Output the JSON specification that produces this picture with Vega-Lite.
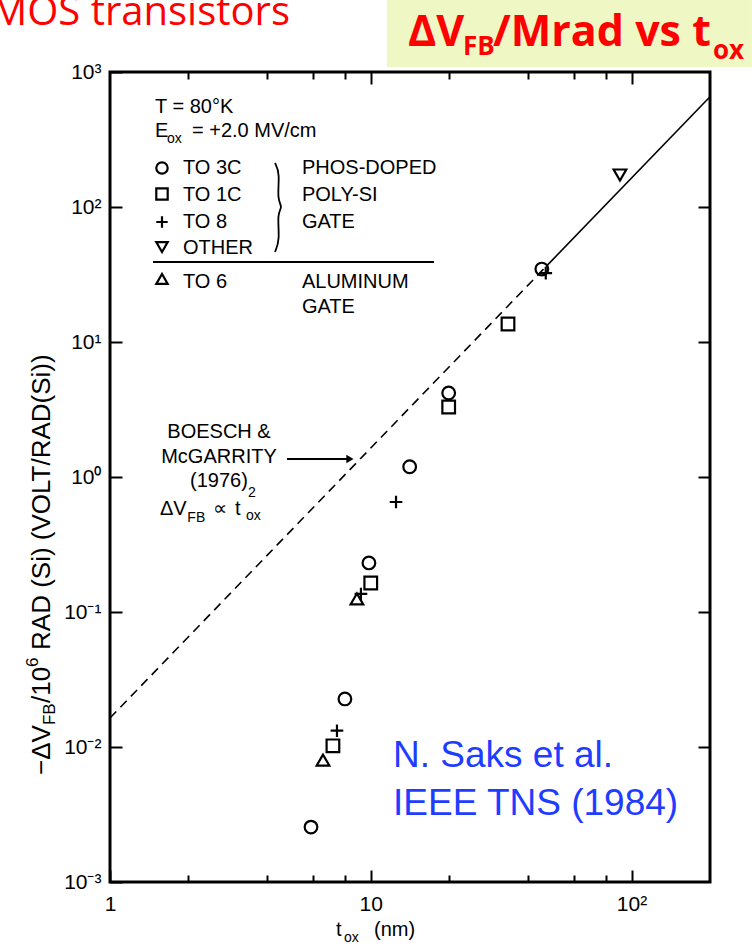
{
  "$schema": "https://vega.github.io/schema/vega-lite/v6.json",
  "width": 600,
  "height": 810,
  "autosize": {"type": "none"},
  "padding": {"left": 110, "top": 72, "right": 42, "bottom": 65},
  "background": "white",
  "config": {"view": {"stroke": "black", "strokeWidth": 3}, "font": "Liberation Sans"},
  "datasets": {
    "pts": [
      {"x": 45.3, "y": 34.7, "s": "TO 3C"},
      {"x": 19.9, "y": 4.19, "s": "TO 3C"},
      {"x": 14.1, "y": 1.19, "s": "TO 3C"},
      {"x": 9.84, "y": 0.231, "s": "TO 3C"},
      {"x": 7.96, "y": 0.0227, "s": "TO 3C"},
      {"x": 5.9, "y": 0.00255, "s": "TO 3C"},
      {"x": 33.6, "y": 13.6, "s": "TO 1C"},
      {"x": 19.9, "y": 3.3, "s": "TO 1C"},
      {"x": 10.0, "y": 0.164, "s": "TO 1C"},
      {"x": 7.16, "y": 0.0102, "s": "TO 1C"},
      {"x": 46.9, "y": 32.4, "s": "TO 8"},
      {"x": 12.5, "y": 0.653, "s": "TO 8"},
      {"x": 9.17, "y": 0.136, "s": "TO 8"},
      {"x": 7.42, "y": 0.0132, "s": "TO 8"},
      {"x": 90.3, "y": 172.6, "s": "OTHER"},
      {"x": 8.85, "y": 0.125, "s": "TO 6"},
      {"x": 6.56, "y": 0.008, "s": "TO 6"}
    ],
    "legsym": [
      {"x": 1.5826, "y": 194.5, "s": "TO 3C"},
      {"x": 1.5826, "y": 124.8, "s": "TO 1C"},
      {"x": 1.5826, "y": 77.4, "s": "TO 8"},
      {"x": 1.5826, "y": 50.5, "s": "OTHER"},
      {"x": 1.5826, "y": 29.3, "s": "TO 6"}
    ],
    "dash": [{"x": 1, "y": 0.0164}, {"x": 47, "y": 36.2}],
    "solid": [{"x": 47, "y": 36.2}, {"x": 200, "y": 656}],
    "brace": [
      {"i": 0, "x": 4.292, "y": 211.8},
      {"i": 1, "x": 4.485, "y": 178.6},
      {"i": 2, "x": 4.369, "y": 112.7},
      {"i": 3, "x": 4.606, "y": 100},
      {"i": 4, "x": 4.369, "y": 90.3},
      {"i": 5, "x": 4.485, "y": 56.96},
      {"i": 6, "x": 4.292, "y": 46.4}
    ],
    "sep": [{"x": 1.462, "x2": 17.47, "y": 39.14}],
    "arrow": [{"x": 4.771, "x2": 8.176, "y": 1.359}],
    "arrowhead": [{"x": 8.32, "y": 1.359}],
    "titlebox": [{"x": 11.53, "x2": 289.5, "y": 3415, "y2": 1089}],
    "txt20": [
      {"x": 1.4877, "y": 497, "t": "T = 80°K"},
      {"x": 1.4877, "y": 330, "t": "E"},
      {"x": 2.0629, "y": 330, "t": "= +2.0 MV/cm"},
      {"x": 1.9053, "y": 175.6, "t": "TO 3C"},
      {"x": 1.9053, "y": 110.8, "t": "TO 1C"},
      {"x": 1.9053, "y": 69.9, "t": "TO 8"},
      {"x": 1.9053, "y": 44.86, "t": "OTHER"},
      {"x": 1.9053, "y": 25.12, "t": "TO 6"},
      {"x": 5.447, "y": 175.6, "t": "PHOS-DOPED"},
      {"x": 5.447, "y": 110.8, "t": "POLY-SI"},
      {"x": 5.447, "y": 69.9, "t": "GATE"},
      {"x": 5.447, "y": 25.12, "t": "ALUMINUM"},
      {"x": 5.447, "y": 16.4, "t": "GATE"},
      {"x": 1.555, "y": 0.523, "t": "ΔV"},
      {"x": 2.483, "y": 0.523, "t": "∝"},
      {"x": 3.016, "y": 0.523, "t": "t"},
      {"x": 7.355, "y": 0.000398, "t": "t"},
      {"x": 10.29, "y": 0.000398, "t": "(nm)"}
    ],
    "txt20c": [
      {"x": 2.618, "y": 1.945, "t": "BOESCH &"},
      {"x": 2.618, "y": 1.27, "t": "McGARRITY"},
      {"x": 2.618, "y": 0.843, "t": "(1976)"}
    ],
    "txt14": [
      {"x": 1.6542, "y": 298, "t": "ox"},
      {"x": 1.98, "y": 0.464, "t": "FB"},
      {"x": 3.382, "y": 0.711, "t": "2"},
      {"x": 3.323, "y": 0.48, "t": "ox"},
      {"x": 7.892, "y": 0.000359, "t": "ox"}
    ],
    "ylab": [
      {"x": 0.5888, "y": 0.0062, "t": "−ΔV"},
      {"x": 0.5888, "y": 0.02118, "t": "/10"},
      {"x": 0.5888, "y": 0.05232, "t": "RAD (Si) (VOLT/RAD(Si))"}
    ],
    "ylabsmall": [
      {"x": 0.6152, "y": 0.01455, "t": "FB"},
      {"x": 0.5296, "y": 0.03915, "t": "6"}
    ],
    "title": [
      {"x": 13.89, "y": 1558, "t": "ΔV"},
      {"x": 29.42, "y": 1558, "t": "/Mrad vs t"}
    ],
    "titlesub": [
      {"x": 22.57, "y": 1336, "t": "FB"},
      {"x": 205.2, "y": 1248, "t": "ox"}
    ],
    "mos": [{"x": 4.9, "y": 2228, "t": "MOS transistors"}],
    "saks": [
      {"x": 12.17, "y": 0.00711, "t": "N. Saks et al."},
      {"x": 12.17, "y": 0.00313, "t": "IEEE TNS (1984)"}
    ]
  },
  "encoding": {
    "x": {"field": "x", "type": "quantitative", "scale": {"type": "log", "domain": [1, 200], "nice": false}, "axis": null},
    "y": {"field": "y", "type": "quantitative", "scale": {"type": "log", "domain": [0.001, 1000], "nice": false}, "axis": null}
  },
  "layer": [
    {
      "data": {"name": "titlebox"},
      "mark": {"type": "rect", "fill": "#eff8c4"},
      "encoding": {"x2": {"field": "x2"}, "y2": {"field": "y2"}}
    },
    {
      "data": {"name": "pts"},
      "mark": {"type": "point", "filled": false, "stroke": "black", "strokeWidth": 2.2, "size": 160, "opacity": 1},
      "encoding": {
        "x": {
          "field": "x", "type": "quantitative",
          "scale": {"type": "log", "domain": [1, 200], "nice": false},
          "axis": {
            "orient": "bottom", "title": null, "grid": false, "domain": false,
            "values": [1, 2, 4, 6, 8, 10, 20, 40, 60, 80, 100],
            "labelExpr": "datum.value == 1 ? '1' : datum.value == 10 ? '10' : datum.value == 100 ? '10²' : ''",
            "tickSize": {"condition": {"test": "datum.value == 1 || datum.value == 10 || datum.value == 100", "value": -12}, "value": -7},
            "tickWidth": 2, "tickColor": "black",
            "labelFontSize": 21, "labelColor": "black", "labelPadding": 23,
            "labelFlush": false, "labelOverlap": false, "labelBound": false
          }
        },
        "y": {
          "field": "y", "type": "quantitative",
          "scale": {"type": "log", "domain": [0.001, 1000], "nice": false},
          "axis": {
            "orient": "left", "title": null, "grid": false, "domain": false,
            "values": [0.001, 0.01, 0.1, 1, 10, 100, 1000],
            "labelExpr": "datum.value < 0.0015 ? '10⁻³' : datum.value < 0.015 ? '10⁻²' : datum.value < 0.15 ? '10⁻¹' : datum.value < 1.5 ? '10⁰' : datum.value < 15 ? '10¹' : datum.value < 150 ? '10²' : '10³'",
            "tickSize": -12, "tickWidth": 2, "tickColor": "black",
            "labelFontSize": 21, "labelColor": "black", "labelPadding": 21,
            "labelFlush": false, "labelOverlap": false, "labelBound": false
          }
        },
        "shape": {
          "field": "s", "type": "nominal", "legend": null,
          "scale": {"domain": ["TO 3C", "TO 1C", "TO 8", "OTHER", "TO 6"], "range": ["circle", "square", "M-1,0H1M0,-1V1", "triangle-down", "triangle-up"]}
        }
      }
    },
    {
      "data": {"name": "dash"},
      "mark": {"type": "line", "color": "black", "strokeWidth": 1.6, "strokeDash": [9, 6]},
      "encoding": {
        "x": {
          "field": "x", "type": "quantitative",
          "scale": {"type": "log", "domain": [1, 200], "nice": false},
          "axis": {
            "orient": "top", "title": null, "grid": false, "domain": false, "labels": false,
            "values": [2, 4, 6, 8, 10, 20, 40, 60, 80, 100],
            "tickSize": {"condition": {"test": "datum.value == 10 || datum.value == 100", "value": -12}, "value": -7},
            "tickWidth": 2, "tickColor": "black"
          }
        },
        "y": {
          "field": "y", "type": "quantitative",
          "scale": {"type": "log", "domain": [0.001, 1000], "nice": false},
          "axis": {
            "orient": "right", "title": null, "grid": false, "domain": false, "labels": false,
            "values": [0.01, 0.1, 1, 10, 100],
            "tickSize": -12, "tickWidth": 2, "tickColor": "black"
          }
        }
      }
    },
    {
      "data": {"name": "solid"},
      "mark": {"type": "line", "color": "black", "strokeWidth": 1.6}
    },
    {
      "data": {"name": "legsym"},
      "mark": {"type": "point", "filled": false, "stroke": "black", "strokeWidth": 2.2, "size": 130, "opacity": 1},
      "encoding": {
        "shape": {
          "field": "s", "type": "nominal", "legend": null,
          "scale": {"domain": ["TO 3C", "TO 1C", "TO 8", "OTHER", "TO 6"], "range": ["circle", "square", "M-1,0H1M0,-1V1", "triangle-down", "triangle-up"]}
        }
      }
    },
    {
      "data": {"name": "sep"},
      "mark": {"type": "rule", "color": "black", "strokeWidth": 2},
      "encoding": {"x2": {"field": "x2"}}
    },
    {
      "data": {"name": "brace"},
      "mark": {"type": "line", "color": "black", "strokeWidth": 1.8, "interpolate": "basis"},
      "encoding": {"order": {"field": "i", "type": "quantitative"}}
    },
    {
      "data": {"name": "arrow"},
      "mark": {"type": "rule", "color": "black", "strokeWidth": 2},
      "encoding": {"x2": {"field": "x2"}}
    },
    {
      "data": {"name": "arrowhead"},
      "mark": {"type": "point", "shape": "triangle-right", "filled": true, "color": "black", "size": 70, "opacity": 1}
    },
    {
      "data": {"name": "txt20"},
      "mark": {"type": "text", "font": "Liberation Sans", "fontSize": 20, "align": "left", "baseline": "alphabetic", "color": "black"},
      "encoding": {"text": {"field": "t", "type": "nominal"}}
    },
    {
      "data": {"name": "txt20c"},
      "mark": {"type": "text", "font": "Liberation Sans", "fontSize": 20, "align": "center", "baseline": "alphabetic", "color": "black"},
      "encoding": {"text": {"field": "t", "type": "nominal"}}
    },
    {
      "data": {"name": "txt14"},
      "mark": {"type": "text", "font": "Liberation Sans", "fontSize": 14, "align": "left", "baseline": "alphabetic", "color": "black"},
      "encoding": {"text": {"field": "t", "type": "nominal"}}
    },
    {
      "data": {"name": "ylab"},
      "mark": {"type": "text", "font": "Liberation Sans", "fontSize": 26, "align": "left", "baseline": "alphabetic", "angle": 270, "color": "black"},
      "encoding": {"text": {"field": "t", "type": "nominal"}}
    },
    {
      "data": {"name": "ylabsmall"},
      "mark": {"type": "text", "font": "Liberation Sans", "fontSize": 17, "align": "left", "baseline": "alphabetic", "angle": 270, "color": "black"},
      "encoding": {"text": {"field": "t", "type": "nominal"}}
    },
    {
      "data": {"name": "title"},
      "mark": {"type": "text", "font": "Open Sans", "fontWeight": "bold", "fontSize": 43, "align": "left", "baseline": "alphabetic", "color": "#ff0000"},
      "encoding": {"text": {"field": "t", "type": "nominal"}}
    },
    {
      "data": {"name": "titlesub"},
      "mark": {"type": "text", "font": "Open Sans", "fontWeight": "bold", "fontSize": 26, "align": "left", "baseline": "alphabetic", "color": "#ff0000"},
      "encoding": {"text": {"field": "t", "type": "nominal"}}
    },
    {
      "data": {"name": "mos"},
      "mark": {"type": "text", "font": "Open Sans", "fontSize": 40, "align": "right", "baseline": "alphabetic", "color": "#ff0000"},
      "encoding": {"text": {"field": "t", "type": "nominal"}}
    },
    {
      "data": {"name": "saks"},
      "mark": {"type": "text", "font": "Liberation Sans", "fontSize": 37, "align": "left", "baseline": "alphabetic", "color": "#1f3dff"},
      "encoding": {"text": {"field": "t", "type": "nominal"}}
    }
  ],
  "resolve": {"axis": {"x": "independent", "y": "independent"}}
}
